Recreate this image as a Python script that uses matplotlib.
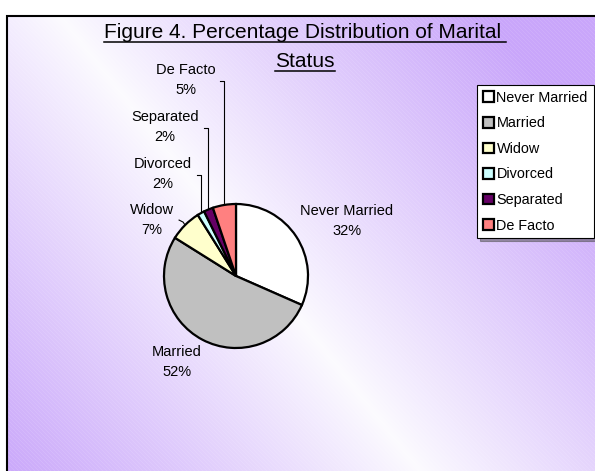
import numpy as np
import matplotlib
matplotlib.use('Agg')
import matplotlib.pyplot as plt

# data
categories = ['Never Married', 'Married', 'Widow', 'Divorced', 'Separated', 'De Facto']
shares = [31.6, 52.3, 7.2, 1.6, 2.1, 5.2]
colours = ['#FFFFFF', '#C0C0C0', '#FFFFCC', '#CCFFFF', '#660066', '#FF8080']
title_lines = ['Figure 4. Percentage Distribution of Marital ', 'Status']

# label block centres (image pixels), one per category
label_pos = [(347, 221), (177, 362), (152, 220), (163, 174), (165, 127), (186, 80)]

W, H = 595, 471
plt.rcParams['font.family'] = ['Liberation Sans', 'DejaVu Sans']

fig = plt.figure(figsize=(W / 100, H / 100), dpi=100)
ax = fig.add_axes([0, 0, 1, 1])

# background gradient: white band on a diagonal, lavender at the corners
yy, xx = np.mgrid[16:H + 5, 7:W + 5]
x_line = 60 + (yy - 16) * (420 - 60) / 455.0
t = np.clip(np.abs(xx - x_line) / 430.0, 0, 1) ** 0.9
purple = np.array([201, 166, 250]) / 255.0
white = np.array([252, 251, 255]) / 255.0
img = white[None, None, :] * (1 - t[..., None]) + purple[None, None, :] * t[..., None]
# faint diagonal stripes
stripes = ((xx - yy) % 4 == 0)
img[stripes] = img[stripes] * 0.9 + 0.1
ax.imshow(img, extent=(7, W + 5, H + 5, 16), aspect='auto', zorder=0, interpolation='bilinear')

# chart area border (runs off the right and bottom)
ax.plot([7, 7, W + 5], [H + 5, 16, 16], color='black', lw=1.5, zorder=1, solid_joinstyle='miter')

centre = (236, 276)
radius = 72
wedges, _ = ax.pie(shares, colors=colours, startangle=-90, counterclock=True,
                   center=centre, radius=radius,
                   wedgeprops=dict(edgecolor='black', linewidth=1.6), frame=True)
for w in wedges:
    w.set_zorder(3)

ax.set_xlim(0, W)
ax.set_ylim(H, 0)
ax.set_aspect('auto')
ax.axis('off')

# labels and leader lines
for w, name, v, (lx, ly) in zip(wedges, categories, shares, label_pos):
    ax.text(lx, ly, f'{name}\n{round(v)}%', ha='center', va='center',
            fontsize=10.5, linespacing=1.5, zorder=4)
    mid = np.deg2rad((w.theta1 + w.theta2) / 2)
    axp = centre[0] + radius * np.cos(mid)
    ayp = centre[1] + radius * np.sin(mid)
    if name in ('Divorced', 'Separated', 'De Facto'):
        ax.plot([axp, axp, axp - 4], [ayp, ly + 1, ly + 1], color='black', lw=0.8, zorder=2)
    elif name == 'Widow':
        ax.plot([axp - 6, axp - 2, axp], [ayp - 5, ayp - 3, ayp], color='black', lw=0.8, zorder=2)

# underlined title, one text per line
fig.canvas.draw()
renderer = fig.canvas.get_renderer()
for line, base in zip(title_lines, [38, 67]):
    txt = ax.text(305, base, line, ha='center', va='baseline', fontsize=15, zorder=4)
    bb = txt.get_window_extent(renderer=renderer)
    x0, x1 = bb.x0, bb.x1
    ax.plot([x0, x1], [base + 4, base + 4], color='black', lw=1.1, zorder=4)

leg = ax.legend(wedges, categories, loc='upper left', bbox_to_anchor=(477 / W, 1 - 85 / H),
                frameon=True, fancybox=False, shadow=True, framealpha=1, edgecolor='black',
                borderaxespad=0, borderpad=0.4, handlelength=0.75, handleheight=0.75,
                handletextpad=0.2, labelspacing=0.8, fontsize=10.4)
leg.get_frame().set_linewidth(0.8)
leg.set_zorder(5)

fig.savefig('out.png', dpi=100)
